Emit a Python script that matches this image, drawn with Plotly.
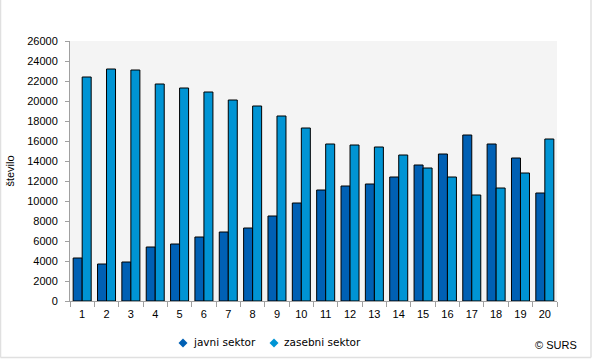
import plotly.graph_objects as go

categories = [str(i) for i in range(1, 21)]
javni = [4300, 3700, 3900, 5400, 5700, 6400, 6900, 7300, 8500, 9800,
         11100, 11500, 11700, 12400, 13600, 14700, 16600, 15700, 14300, 10800]
zasebni = [22400, 23200, 23100, 21700, 21300, 20900, 20100, 19500, 18500, 17300,
           15700, 15600, 15400, 14600, 13300, 12400, 10600, 11300, 12800, 16200]
y_ticks = list(range(0, 26001, 2000))
series_names = ["javni sektor", "zasebni sektor"]

c_javni = "#0060b4"
c_zas = "#0094d4"

W, H = 593, 360
L, R, T, B = 70, 36, 41, 59
pw, ph = W - L - R, H - T - B


def px_x(x):
    return (x - L) / pw


def px_y(y):
    return (H - B - y) / ph


fig = go.Figure()
fig.add_trace(go.Bar(x=categories, y=javni, name=series_names[0],
                     marker=dict(color=c_javni, line=dict(color="#000000", width=1))))
fig.add_trace(go.Bar(x=categories, y=zasebni, name=series_names[1],
                     marker=dict(color=c_zas, line=dict(color="#000000", width=1))))

# outer frame (left, right, bottom)
fx0, fx1, fy0, fy1 = px_x(0.5), px_x(591), px_y(357.5), px_y(0)
fig.add_shape(type="line", xref="paper", yref="paper", x0=fx0, x1=fx0, y0=fy0, y1=fy1, line=dict(color="#e0e0e0", width=1.5))
fig.add_shape(type="line", xref="paper", yref="paper", x0=fx1, x1=fx1, y0=fy0, y1=fy1, line=dict(color="#e0e0e0", width=1.5))
fig.add_shape(type="line", xref="paper", yref="paper", x0=fx0, x1=fx1, y0=fy0, y1=fy0, line=dict(color="#e0e0e0", width=1.5))

# manual legend with diamond markers
leg_items = [(series_names[0], c_javni, 183), (series_names[1], c_zas, 274)]
ly = 343
for name, col, cx in leg_items:
    d = 4.5
    path = "M {} {} L {} {} L {} {} L {} {} Z".format(
        px_x(cx), px_y(ly - d), px_x(cx + d), px_y(ly), px_x(cx), px_y(ly + d), px_x(cx - d), px_y(ly))
    fig.add_shape(type="path", xref="paper", yref="paper", path=path,
                  fillcolor=col, line=dict(color=col, width=0))
    fig.add_annotation(text=name, xref="paper", yref="paper", x=px_x(cx + 8), y=px_y(ly - 1),
                       xanchor="left", yanchor="middle", showarrow=False,
                       font=dict(family="DejaVu Sans, Verdana", size=10.5, color="#000000"))

fig.add_annotation(text="© SURS", xref="paper", yref="paper", x=px_x(579), y=px_y(345),
                   xanchor="right", yanchor="middle", showarrow=False,
                   font=dict(family="Liberation Sans, Arial", size=11, color="#000000"))

fig.update_layout(
    width=W, height=H,
    margin=dict(l=L, r=R, t=T, b=B, pad=0, autoexpand=False),
    paper_bgcolor="#ffffff",
    plot_bgcolor="#f4f4f4",
    barmode="group",
    bargap=0.26,
    bargroupgap=0,
    showlegend=False,
    font=dict(family="Liberation Sans, Arial", size=11, color="#000000"),
    xaxis=dict(type="category", tickson="boundaries", ticks="outside", ticklen=5,
               tickcolor="#a0a0a0", showline=True, linecolor="#a0a0a0", linewidth=1,
               showgrid=False, tickfont=dict(size=11), ticklabelstandoff=3,
               automargin=False, fixedrange=True),
    yaxis=dict(range=[0, 26000], tickvals=y_ticks, ticktext=[str(v) for v in y_ticks],
               ticks="outside", ticklen=4, ticklabelstandoff=5, automargin=False,
               tickcolor="#a0a0a0", showline=True, linecolor="#a0a0a0", linewidth=1,
               showgrid=False, zeroline=False, tickfont=dict(size=11),
               title=dict(text="število", font=dict(size=11), standoff=10)),
)

fig.write_html("out.html", config={"displayModeBar": False},
               post_script="document.body.style.margin='0';document.body.style.overflow='hidden';")
